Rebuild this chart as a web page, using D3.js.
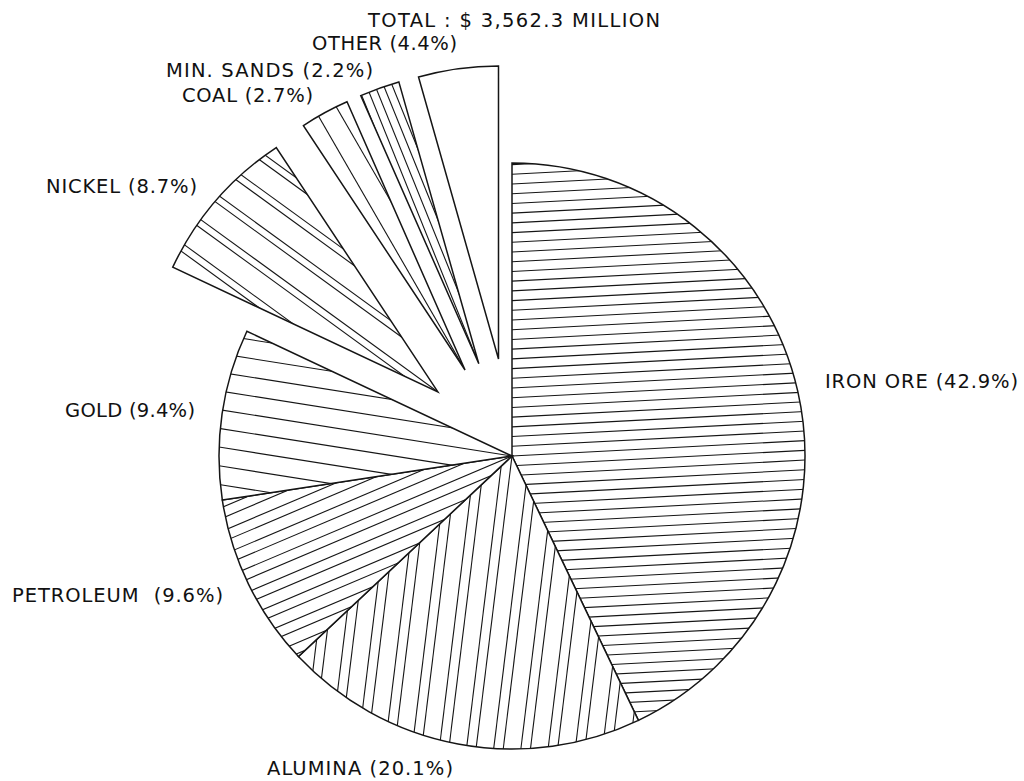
<!DOCTYPE html>
<html>
<head>
<meta charset="utf-8">
<script src="https://cdn.jsdelivr.net/npm/d3@7"></script>
<style>
  body { margin: 0; background: #fff; }
  text { font-family: "DejaVu Sans", sans-serif; font-size: 19.5px; fill: #111; white-space: pre; }
</style>
</head>
<body>
<svg id="chart" width="1024" height="781"></svg>
<script>
// Chart data
const categories = ["IRON ORE", "ALUMINA", "PETROLEUM", "GOLD", "NICKEL", "COAL", "MIN. SANDS", "OTHER"];
const shares = [42.9, 20.1, 9.6, 9.4, 8.7, 2.7, 2.2, 4.4];
const explodedCategories = ["NICKEL", "COAL", "MIN. SANDS", "OTHER"];
const totalMillion = 3562.3;

// Display settings
const svg = d3.select('#chart');
const cx = 512, cy = 456;
const radius = 293;
const explodeBy = 98;
const strokeColor = '#151515';

// Hatch styles: angle (deg, + = falling to the right), spacing, optional pair gap
const hatch = {
  "IRON ORE":   {angle: -3,  step: 9.7},
  "ALUMINA":    {angle: 97,  step: 27, pair: 9.5},
  "PETROLEUM":  {angle: -23, step: 22, pair: 10},
  "GOLD":       {angle: 9,   step: 18.5},
  "NICKEL":     {angle: 36,  step: 30, pair: 7},
  "COAL":       {angle: 60,  step: 20},
  "MIN. SANDS": {angle: 68,  step: 8},
  "OTHER":      null
};

// Label layout (left x, baseline y, width)
const labelAt = {
  "IRON ORE":   [825, 388, 193],
  "ALUMINA":    [267, 775, 186],
  "PETROLEUM":  [12, 602, 211],
  "GOLD":       [65, 417, 130],
  "NICKEL":     [46, 193, 151],
  "COAL":       [182, 102, 131],
  "MIN. SANDS": [166, 77, 207],
  "OTHER":      [312, 49.5, 145]
};

const rows = categories.map((c, i) => ({name: c, share: shares[i]}));

const pie = d3.pie().sort(null).value(d => d.share);
const arc = d3.arc().innerRadius(0).outerRadius(radius);
const arcs = pie(rows);

const defs = svg.append('defs');
const chart = svg.append('g').attr('transform', `translate(${cx},${cy})`);

arcs.forEach((a, i) => {
  const name = a.data.name;
  const mid = (a.startAngle + a.endAngle) / 2;
  const off = explodedCategories.includes(name) ? explodeBy : 0;
  const dx = off * Math.sin(mid), dy = -off * Math.cos(mid);

  const g = chart.append('g').attr('transform', `translate(${dx},${dy})`);

  // clip for the hatch lines
  defs.append('clipPath').attr('id', 'clip-' + i)
    .append('path').attr('d', arc(a));

  // white base
  g.append('path').attr('d', arc(a)).attr('fill', '#fff');

  const h = hatch[name];
  if (h) {
    const t = h.angle * Math.PI / 180;
    const ux = Math.cos(t), uy = Math.sin(t);      // line direction
    const nx = -uy, ny = ux;                        // normal
    const n = Math.ceil(radius / h.step) + 1;
    let offsets = [];
    d3.range(-n, n + 1).forEach(k => {
      offsets.push(k * h.step);
      if (h.pair) offsets.push(k * h.step + h.pair);
    });
    g.append('g').attr('clip-path', `url(#clip-${i})`)
      .selectAll('line')
      .data(offsets)
      .join('line')
        .attr('x1', o => nx * o - ux * radius * 1.2)
        .attr('y1', o => ny * o - uy * radius * 1.2)
        .attr('x2', o => nx * o + ux * radius * 1.2)
        .attr('y2', o => ny * o + uy * radius * 1.2)
        .attr('stroke', strokeColor)
        .attr('stroke-width', 1.1);
  }

  // outline
  g.append('path').attr('d', arc(a))
    .attr('fill', 'none')
    .attr('stroke', strokeColor)
    .attr('stroke-width', 1.5)
    .attr('stroke-linejoin', 'miter');
});

// Labels
const fmt = d3.format('.1f');
arcs.forEach(a => {
  const name = a.data.name;
  const [x, y, w] = labelAt[name];
  const gap = name === 'PETROLEUM' ? '  ' : ' ';
  svg.append('text')
    .attr('x', x).attr('y', y)
    .attr('textLength', w)
    .attr('lengthAdjust', 'spacing')
    .text(`${name}${gap}(${fmt(a.data.share)}%)`);
});

// Total heading
svg.append('text')
  .attr('x', 368).attr('y', 26.5)
  .attr('textLength', 292)
  .attr('lengthAdjust', 'spacing')
  .text(`TOTAL : $ ${d3.format(',.1f')(totalMillion)} MILLION`);
</script>
</body>
</html>
